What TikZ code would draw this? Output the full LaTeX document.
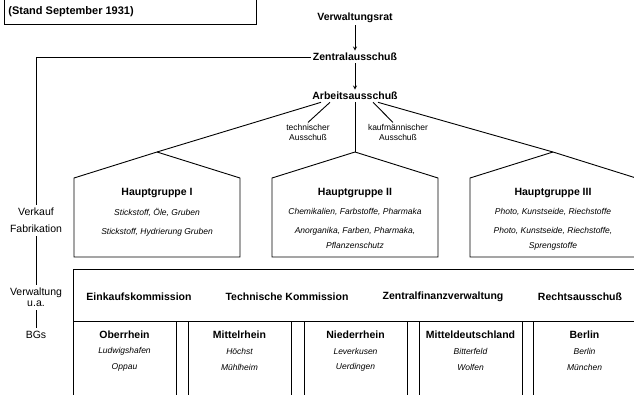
\documentclass[tikz,border=0pt]{standalone}
\usepackage{fontspec}
\setmainfont{Liberation Sans}
\begin{document}
\begin{tikzpicture}[x=1pt,y=-1pt,line width=.9pt,
	bf/.style={font=\bfseries\fontsize{10.5}{12}\selectfont,inner sep=2pt},
	it/.style={font=\itshape\fontsize{8.5}{15}\selectfont,align=center,inner sep=0pt},
	rm/.style={font=\fontsize{10.5}{17}\selectfont,align=center,inner sep=3pt}]
	\useasboundingbox (0,0) rectangle (634,394);
	\draw (4,-10) rectangle (256,24);
	\path (8,12) node[anchor=west,inner sep=0pt,font=\bfseries\fontsize{11}{13}\selectfont](stand){(Stand September 1931)};
	\foreach \y/\gt/\n in {18/Verwaltungsrat/vr,57/Zentralausschuß/za,96/Arbeitsausschuß/aa}\path (355,\y) node[bf](\n){\gt};
	\draw[-stealth] (vr)--(za);
	\draw[-stealth] (za)--(aa);
	\foreach \x/\gt/\n in {308/technischer/tech,398/kaufmännischer/kauf}\path (\x,132) node[font=\fontsize{8.5}{10}\selectfont,align=center,inner sep=1pt](\n){\gt\\Ausschuß};
	\foreach \x/\i in {157/1,355/2,553/3}\draw (\x-83,257)--(\x-83,178)--(\x,152) coordinate(r\i)--(\x+83,178)--(\x+83,257)--cycle;
	\draw ([xshift=-34pt]aa.south)--(r1);
	\draw ([xshift=-25pt]aa.south)--(tech.north);
	\draw (aa)--(r2);
	\draw ([xshift=18pt]aa.south)--([xshift=-5pt]kauf.north);
	\draw ([xshift=23pt]aa.south)--(r3);
	\foreach \x/\t/\a[count=\i] in {157/Hauptgruppe I/{Stickstoff, Öle, Gruben\\[4pt]Stickstoff, Hydrierung Gruben},355/Hauptgruppe II/{Chemikalien, Farbstoffe, Pharmaka\\[4pt]Anorganika, Farben, Pharmaka,\\Pflanzenschutz},553/Hauptgruppe III/{Photo, Kunstseide, Riechstoffe\\[4pt]Photo, Kunstseide, Riechstoffe,\\Sprengstoffe}}\path (\x,193) node[bf](h\i){\t} (\x,208) node[it,anchor=north](s\i){\a};
	\path (36,220.5) node[rm](vf){Verkauf\\Fabrikation} (36,297.5) node[rm,font=\fontsize{10.5}{11}\selectfont](vw){Verwaltung\\u.a.} (36,335) node[rm](bg){BGs};
	\coordinate (c) at (36,57);
	\draw (za.west)--(c)--(vf);
	\draw (vf)--(vw);
	\draw (vw)--(bg);
	\draw (73,400)--(73,269)--(640,269) (73,321)--(640,321);
	\foreach \x in {176,188,291,304,407,419,522,533}\draw (\x,321)--(\x,400);
	\foreach \x/\gt[count=\i] in {139/Einkaufskommission,287/Technische Kommission,443/Zentralfinanzverwaltung,580/Rechtsausschuß}\path (\x,297) node[bf](k\i){\gt};
	\foreach \x/\t/\a/\b[count=\i] in {124.5/Oberrhein/Ludwigshafen/Oppau,239.5/Mittelrhein/Höchst/Mühlheim,355.5/Niederrhein/Leverkusen/Uerdingen,470.5/Mitteldeutschland/Bitterfeld/Wolfen,584.5/Berlin/Berlin/München}\path (\x,335) node[bf](b\i){\t} (\x,351) node[it](o\i){\a} (\x,367) node[it](p\i){\b};
\end{tikzpicture}
\end{document}
